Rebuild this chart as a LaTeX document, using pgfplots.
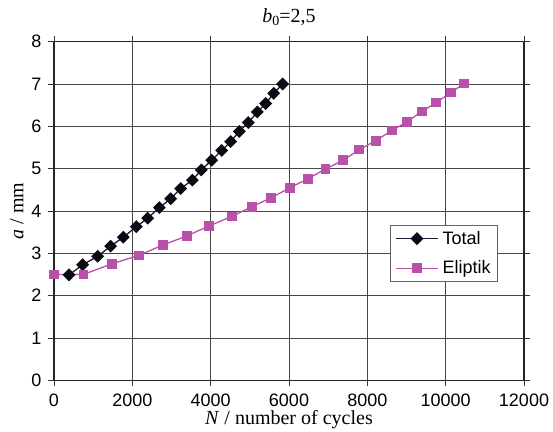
\documentclass[border=0pt]{standalone}
\usepackage{fontspec}
\setmainfont{Liberation Sans}
\newfontfamily\serif{Liberation Serif}
\usepackage{pgfplots}
\pgfplotsset{compat=1.18}
\definecolor{totc}{RGB}{25,25,60}
\definecolor{totm}{RGB}{10,10,20}
\definecolor{elc}{RGB}{185,80,170}
\begin{document}
\begin{tikzpicture}
\begin{axis}[
  name=ax,
  scale only axis, width=470pt, height=338.6pt,
  xmin=0, xmax=12000, ymin=0, ymax=8,
  xtick={0,2000,...,12000}, ytick={0,1,...,8},
  scaled ticks=false,
  /pgf/number format/.cd, set thousands separator={}, assume math mode=true, /pgfplots/.cd,
  tick label style={font=\fontsize{18}{20}\selectfont},
  yticklabel style={xshift=-3pt},
  xticklabel style={yshift=-4pt},
  grid=major, major grid style={black!72, line width=0.9pt},
  axis line style={black!85, line width=1.3pt},
  tick align=outside, major tick length=6pt, tick style={black!80, line width=0.9pt},
  xlabel={\serif\fontsize{20}{22}\selectfont\textit{N} / number of cycles},
  ylabel={\serif\fontsize{20}{22}\selectfont\textit{a} / mm},
  xlabel style={at={(axis description cs:0.5,0)}, anchor=base, yshift=-44.5pt, inner sep=0pt},
  ylabel style={at={(axis description cs:-0.0787,0.5)}, anchor=center, inner sep=0pt},
  title={\serif\fontsize{20}{22}\selectfont\textit{b}\raisebox{-0.3ex}{\fontsize{14}{16}\selectfont 0}=2,5},
  title style={at={(axis description cs:0.5,1)}, anchor=base, yshift=12.7pt},
  legend style={at={(axis cs:8578,3.67)}, anchor=north west, draw=black!60, line width=0.8pt,
    font=\fontsize{18}{20}\selectfont, row sep=11pt, inner xsep=5pt, inner ysep=4pt, fill=white,
    /tikz/every odd column/.append style={column sep=2pt}},
  legend cell align=left,
  legend image code/.code={\draw[mark repeat=2,mark phase=2,#1] plot coordinates {(0pt,0pt) (21pt,0pt) (42pt,0pt)};},
]
\addplot[color=totc, line width=1.3pt, mark=square*, mark size=3.9pt, mark options={rotate=45, fill=totm, draw=totm}]
coordinates {
(383,2.49) (732,2.73) (1115,2.93) (1447,3.17) (1770,3.38) (2102,3.63) (2391,3.83)
(2690,4.08) (2979,4.29) (3234,4.53) (3532,4.73) (3762,4.97) (4025,5.20) (4281,5.43)
(4511,5.64) (4732,5.88) (4962,6.09) (5192,6.34) (5404,6.54) (5609,6.78) (5838,7.00)
};
\addlegendentry{Total}
\addplot[color=elc, line width=1.3pt, mark=square*, mark size=4.2pt, mark options={fill=elc, draw=elc}]
coordinates {
(0,2.5) (750,2.5) (1473,2.75) (2162,2.95) (2790,3.20) (3388,3.41) (3966,3.65)
(4536,3.87) (5050,4.10) (5540,4.31) (6025,4.55) (6477,4.76) (6928,4.99) (7386,5.20)
(7795,5.45) (8213,5.66) (8621,5.90) (9004,6.10) (9387,6.35) (9760,6.56) (10128,6.80) (10475,7.01)
};
\addlegendentry{Eliptik}
\end{axis}
\pgfresetboundingbox
\path ([shift={(-54pt,-51.7pt)}]ax.south west) rectangle ([shift={(29pt,41.7pt)}]ax.north east);
\end{tikzpicture}
\end{document}
